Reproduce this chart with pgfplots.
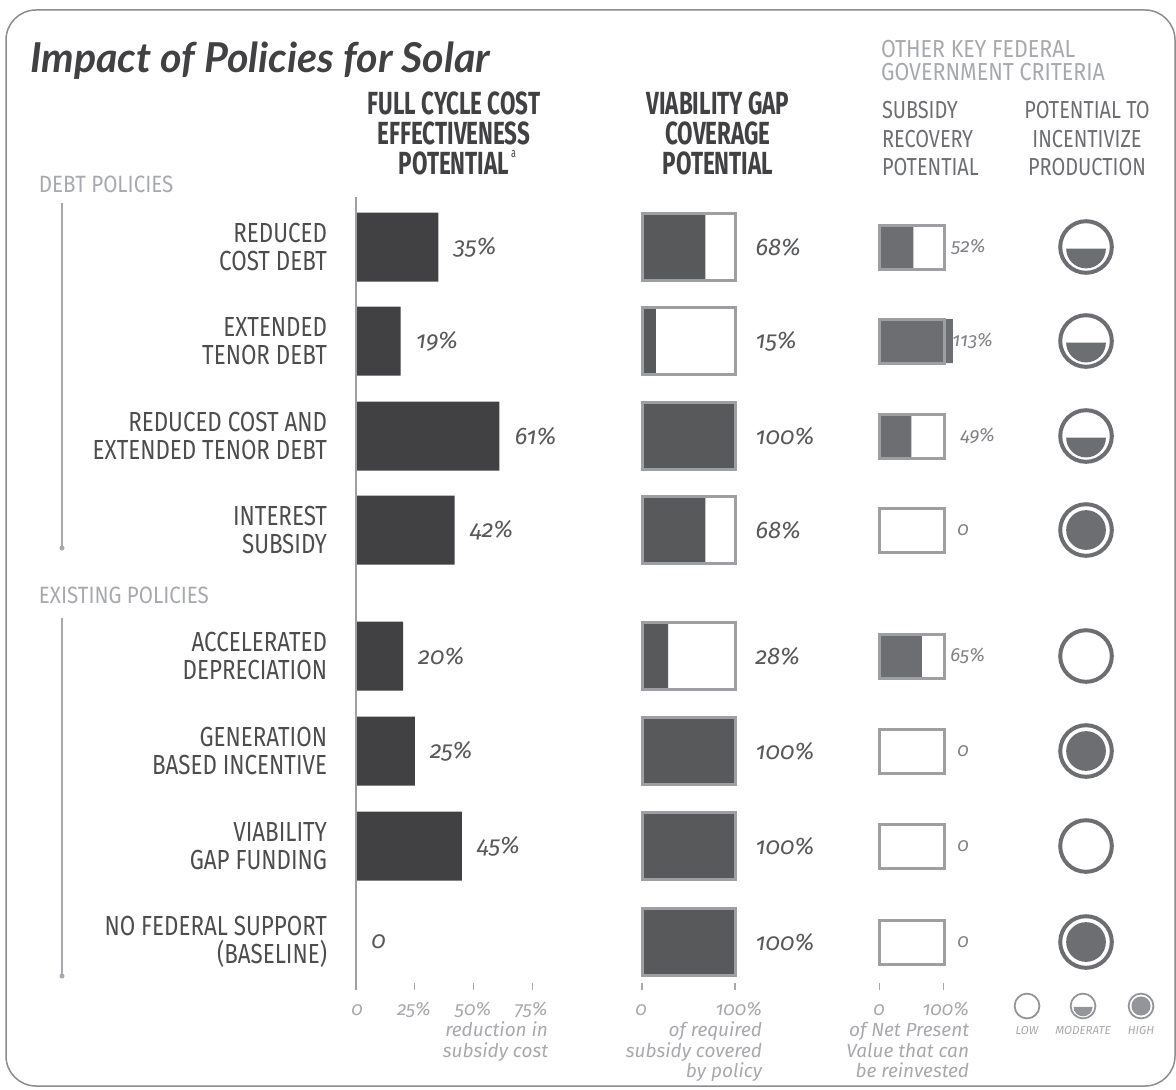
\documentclass[border=0pt]{standalone}
\usepackage{pgfplots}
\pgfplotsset{compat=1.18}
\usepackage{pgfplotstable}
\usepackage{fontspec}
\setmainfont{Fira Sans}
\newfontfamily\titlefont{Lato}
\newfontfamily\condfont[FakeStretch=0.81]{Fira Sans}
\newfontfamily\hdrfont[FakeStretch=0.70]{Fira Sans}
\newfontfamily\lightfont[FakeStretch=0.87]{Fira Sans}
\newfontfamily\numfont[Numbers=OldStyle]{Fira Sans}

\definecolor{ink}{HTML}{414042}
\definecolor{rowink}{HTML}{4D4D4F}
\definecolor{bardark}{HTML}{414042}
\definecolor{vgfill}{HTML}{58595B}
\definecolor{srfill}{HTML}{6D6E71}
\definecolor{boxedge}{HTML}{9D9FA2}
\definecolor{softgray}{HTML}{A7A9AC}
\definecolor{midgray}{HTML}{6D6E71}
\definecolor{valgray}{HTML}{58595B}
\definecolor{lightval}{HTML}{808285}
\definecolor{rimgray}{HTML}{8C8C8C}
\definecolor{leggray}{HTML}{939598}

\pgfdeclareplotmark{ratelow}{%
  \pgfpathcircle{\pgfpointorigin}{\pgfplotmarksize}\pgfusepathqstroke}
\pgfdeclareplotmark{ratemod}{%
  \pgfpathcircle{\pgfpointorigin}{\pgfplotmarksize}\pgfusepathqstroke
  \pgfpathmoveto{\pgfpoint{-0.77\pgfplotmarksize}{-0.06\pgfplotmarksize}}%
  \pgfpatharc{180}{360}{0.77\pgfplotmarksize}%
  \pgfpathclose\pgfusepathqfill}
\pgfdeclareplotmark{ratehigh}{%
  \pgfpathcircle{\pgfpointorigin}{\pgfplotmarksize}\pgfusepathqstroke
  \pgfpathcircle{\pgfpointorigin}{0.77\pgfplotmarksize}\pgfusepathqfill}

\pgfplotstableread{
y   cost lab1   vg  lab2    sr  lab3    c3x
247 35   35\%   68  68\%    52  52\%    110
341 19   19\%   15  15\%    113 113\%   111.5
436 61   61\%   100 100\%   49  49\%    124
530 42   42\%   68  68\%    0   0       119
656 20   20\%   28  28\%    65  65\%    108.5
751 25   25\%   100 100\%   0   0       119
846 45   45\%   100 100\%   0   0       119
942 0    0      100 100\%   0   0       119
}\policydata

\pgfplotsset{
  panel/.style={anchor=north west, scale only axis, height=545pt,
    xmin=0, xmax=100, ymin=0, ymax=1090, y dir=reverse,
    hide axis, clip=false},
}
\tikzset{valfont/.style={font=\numfont\itshape\fontsize{12pt}{12pt}\selectfont}}

\begin{document}
\begin{tikzpicture}
\begin{scope}[x=0.5pt,y=-0.5pt]
\path[use as bounding box] (0,0) rectangle (1176,1090);
\draw[rimgray, line width=0.75pt, rounded corners=15pt] (6,10) rectangle (1175,1086);
\end{scope}

% ---- Full cycle cost effectiveness
\begin{axis}[panel, at={(178pt,0pt)}, width=117.5pt]
\addplot[xbar, bar shift=0pt, bar width=69, fill=bardark, draw=none,
  nodes near coords, point meta=explicit symbolic,
  every node near coord/.append style={anchor=west, inner sep=0pt, xshift=7.5pt,
    text=valgray, valfont}]
  table[x=cost, y=y, meta=lab1]{\policydata};
\draw[boxedge, line width=0.75pt] (axis cs:0,197) -- (axis cs:0,990);
\draw[softgray, line width=0.6pt] (axis cs:25,983) -- (axis cs:25,990);
\draw[softgray, line width=0.6pt] (axis cs:50,983) -- (axis cs:50,990);
\draw[softgray, line width=0.6pt] (axis cs:75,983) -- (axis cs:75,990);
\end{axis}

% ---- Viability gap coverage
\begin{axis}[panel, at={(321pt,0pt)}, width=46.5pt]
\addplot[xbar, bar shift=0pt, bar width=67, fill=vgfill, draw=none]
  table[x=vg, y=y]{\policydata};
\addplot[xbar, bar shift=0pt, bar width=67, fill=none, draw=boxedge, line width=1.5pt,
  nodes near coords, point meta=explicit symbolic,
  every node near coord/.append style={anchor=west, inner sep=0pt, xshift=9.5pt,
    text=valgray, valfont}]
  table[x expr=100, y=y, meta=lab2]{\policydata};
\draw[softgray, line width=0.6pt] (axis cs:0,983) -- (axis cs:0,990);
\draw[softgray, line width=0.6pt] (axis cs:100,983) -- (axis cs:100,990);
\end{axis}

% ---- Subsidy recovery potential
\begin{axis}[panel, at={(439.75pt,0pt)}, width=32.5pt]
\addplot[xbar, bar shift=0pt, bar width=44, fill=srfill, draw=none]
  table[x=sr, y=y]{\policydata};
\addplot[xbar, bar shift=0pt, bar width=44, fill=none, draw=boxedge, line width=1.5pt]
  table[x expr=100, y=y]{\policydata};
\addplot[xbar, bar shift=0pt, bar width=1, fill=none, draw=none,
  nodes near coords, point meta=explicit symbolic,
  every node near coord/.append style={anchor=west, inner sep=0pt,
    text=lightval, font=\numfont\itshape\fontsize{9.5pt}{10pt}\selectfont}]
  table[x=c3x, y=y, meta=lab3]{\policydata};
\draw[softgray, line width=0.6pt] (axis cs:0,983) -- (axis cs:0,990);
\draw[softgray, line width=0.6pt] (axis cs:98,983) -- (axis cs:98,990);
\end{axis}

% ---- Potential to incentivize production (ratings) + legend
\begin{axis}[panel, at={(0pt,0pt)}, width=588pt, xmin=0, xmax=1176]
\addplot[only marks, mark=ratelow, mark size=12.9pt,
  mark options={draw=srfill, fill=srfill, line width=2pt}]
  coordinates {(1086,656) (1086,846)};
\addplot[only marks, mark=ratemod, mark size=12.9pt,
  mark options={draw=srfill, fill=srfill, line width=2pt}]
  coordinates {(1086,247) (1086,341) (1086,436)};
\addplot[only marks, mark=ratehigh, mark size=12.9pt,
  mark options={draw=srfill, fill=srfill, line width=2pt}]
  coordinates {(1086,530) (1086,751) (1086,942)};
\addplot[only marks, mark=ratelow, mark size=6.2pt,
  mark options={draw=leggray, fill=leggray, line width=0.9pt}]
  coordinates {(1027,1006)};
\addplot[only marks, mark=ratemod, mark size=6.2pt,
  mark options={draw=leggray, fill=leggray, line width=0.9pt}]
  coordinates {(1083,1006)};
\addplot[only marks, mark=ratehigh, mark size=6.2pt,
  mark options={draw=leggray, fill=leggray, line width=0.9pt}]
  coordinates {(1141,1006)};
\end{axis}

\begin{scope}[x=0.5pt,y=-0.5pt, every node/.style={inner sep=0pt, outer sep=0pt}]
% title
\node[anchor=base west, text=ink,
  font=\titlefont\bfseries\itshape\fontsize{20.6pt}{24pt}\selectfont]
  at (30,73) {Impact of Policies for Solar};
% column headers
\node[align=center, text=ink, font=\hdrfont\bfseries\fontsize{16pt}{15pt}\selectfont]
  at (454,133) {FULL CYCLE COST\\EFFECTIVENESS\\POTENTIAL\rlap{\kern1pt\raisebox{0.98ex}{\mdseries\fontsize{6.5pt}{6.5pt}\selectfont a}}};
\node[align=center, text=ink, font=\hdrfont\bfseries\fontsize{16pt}{15pt}\selectfont]
  at (718,133) {VIABILITY GAP\\COVERAGE\\POTENTIAL};
\node[anchor=west, align=left, text=softgray, font=\lightfont\fontsize{12.3pt}{11.5pt}\selectfont]
  at (881,61) {OTHER KEY FEDERAL\\GOVERNMENT CRITERIA};
\node[anchor=west, align=left, text=midgray, font=\condfont\fontsize{12.3pt}{14.25pt}\selectfont]
  at (882,139) {SUBSIDY\\RECOVERY\\POTENTIAL};
\node[align=center, text=midgray, font=\condfont\fontsize{12.3pt}{14.25pt}\selectfont]
  at (1087,139) {POTENTIAL TO\\INCENTIVIZE\\PRODUCTION};
% group labels and brackets
\node[anchor=west, text=softgray, font=\lightfont\fontsize{11.8pt}{12pt}\selectfont]
  at (39,184) {DEBT POLICIES};
\node[anchor=west, text=softgray, font=\lightfont\fontsize{11.8pt}{12pt}\selectfont]
  at (39,595) {EXISTING POLICIES};
\draw[softgray, line width=0.75pt] (62,203) -- (62,548);
\fill[softgray] (62,548) circle (2.5);
\draw[softgray, line width=0.75pt] (62,618) -- (62,976);
\fill[softgray] (62,976) circle (2.5);
% row labels
\tikzset{rowlab/.style={anchor=east, align=right, text=rowink,
  font=\condfont\fontsize{13.8pt}{14pt}\selectfont}}
\node[rowlab] at (327,247) {REDUCED\\COST DEBT};
\node[rowlab] at (327,341) {EXTENDED\\TENOR DEBT};
\node[rowlab] at (327,436) {REDUCED COST AND\\EXTENDED TENOR DEBT};
\node[rowlab] at (327,530) {INTEREST\\SUBSIDY};
\node[rowlab] at (327,656) {ACCELERATED\\DEPRECIATION};
\node[rowlab] at (327,751) {GENERATION\\BASED INCENTIVE};
\node[rowlab] at (327,846) {VIABILITY\\GAP FUNDING};
\node[rowlab] at (327,942) {NO FEDERAL SUPPORT\\(BASELINE)};
% bottom scale labels
\tikzset{ax/.style={text=softgray, font=\numfont\itshape\fontsize{9.5pt}{10pt}\selectfont}}
\node[ax, anchor=base] at (357,1015) {0};
\node[ax, anchor=base] at (414,1015) {25\%};
\node[ax, anchor=base] at (473,1015) {50\%};
\node[ax, anchor=base] at (531,1015) {75\%};
\node[ax, anchor=base east] at (548,1036) {reduction in};
\node[ax, anchor=base east] at (548,1057) {subsidy cost};
\node[ax, anchor=base] at (641,1015) {0};
\node[ax, anchor=base east] at (762,1015) {100\%};
\node[ax, anchor=base east] at (762,1036) {of required};
\node[ax, anchor=base east] at (762,1057) {subsidy covered};
\node[ax, anchor=base east] at (762,1077) {by policy};
\node[ax, anchor=base] at (879,1015) {0};
\node[ax, anchor=base east] at (969,1015) {100\%};
\node[ax, anchor=base east] at (969,1036) {of Net Present};
\node[ax, anchor=base east] at (969,1057) {Value that can};
\node[ax, anchor=base east] at (969,1077) {be reinvested};
% legend labels
\tikzset{lg/.style={anchor=base, text=softgray, font=\numfont\itshape\fontsize{5.8pt}{6pt}\selectfont}}
\node[lg] at (1027,1034) {LOW};
\node[lg] at (1083,1034) {MODERATE};
\node[lg] at (1141,1034) {HIGH};
\end{scope}
\end{tikzpicture}
\end{document}
